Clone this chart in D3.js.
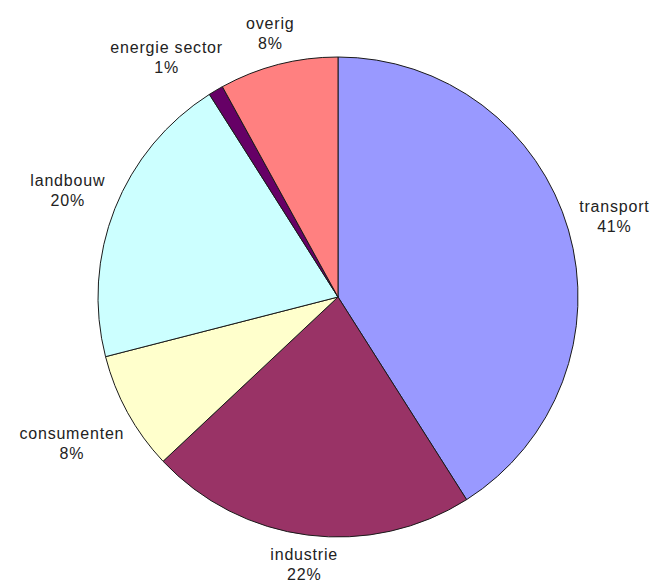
<!DOCTYPE html>
<html>
<head>
<meta charset="utf-8">
<script src="https://cdn.jsdelivr.net/npm/d3@7"></script>
<style>
  body { margin: 0; background: #fff; }
  text { font-family: "Liberation Sans", Arial, sans-serif; font-size: 16px; fill: #222; letter-spacing: 0.8px; }
</style>
</head>
<body>
<div id="chart"></div>
<script>
"use strict";

// Data
var categories = ["transport", "industrie", "consumenten", "landbouw", "energie sector", "overig"];
var shares = [41, 22, 8, 20, 1, 8];
var palette = ["#9999ff", "#993366", "#ffffcc", "#ccffff", "#660066", "#ff8080"];

var width = 650, height = 587;
var cx = 338, cy = 297, radius = 240;
var labelGap = 9;
var lineHeight = 20;
var labelPad = 22;

var svg = d3.select("#chart").append("svg")
    .attr("width", width)
    .attr("height", height);

var g = svg.append("g")
    .attr("transform", "translate(" + cx + "," + cy + ")");

var pie = d3.pie().sort(null).value(function (d) { return d; });
var arc = d3.arc().innerRadius(0).outerRadius(radius);

var slices = pie(shares);

g.selectAll("path.slice")
    .data(slices)
    .enter().append("path")
    .attr("class", "slice")
    .attr("d", arc)
    .attr("fill", function (d, i) { return palette[i]; })
    .attr("stroke", "#1a1a1a")
    .attr("stroke-width", 1);

// distance from centre to nearest point of a box
function nearestDist(bx, by, w, h) {
    var nx = Math.max(bx - w / 2, Math.min(0, bx + w / 2));
    var ny = Math.max(by - h / 2, Math.min(0, by + h / 2));
    return Math.sqrt(nx * nx + ny * ny);
}

// box centre for a label of size w,h pushed out along angle a
function placeAt(a, w, h) {
    var dx = Math.sin(a), dy = -Math.cos(a);
    var lo = 0, hi = 500;
    for (var k = 0; k < 40; k++) {
        var mid = (lo + hi) / 2;
        if (nearestDist(mid * dx, mid * dy, w, h) < radius + labelGap) lo = mid; else hi = mid;
    }
    return [hi * dx, hi * dy];
}

function overlaps(p, q) {
    return Math.abs(p.x - q.x) < (p.w + q.w) / 2 + labelPad &&
           Math.abs(p.y - q.y) < (p.h + q.h) / 2;
}

// Labels: build and measure
var labels = slices.map(function (d, i) {
    var label = g.append("text").attr("text-anchor", "middle");
    label.append("tspan").attr("x", 0).attr("y", 0).text(categories[i]);
    label.append("tspan").attr("x", 0).attr("y", lineHeight).text(shares[i] + "%");
    var bb = label.node().getBBox();
    return { node: label, bb: bb, w: bb.width, h: bb.height, a: (d.startAngle + d.endAngle) / 2, share: shares[i] };
});

// place biggest first, nudge smaller labels round the pie if they collide
var order = d3.range(labels.length).sort(function (i, j) { return shares[j] - shares[i]; });
var placed = [];
order.forEach(function (i) {
    var L = labels[i];
    var a = L.a;
    for (var step = 0; step < 120; step++) {
        var c = placeAt(a, L.w, L.h);
        L.x = c[0]; L.y = c[1];
        var hit = placed.filter(function (p) { return overlaps(L, p); })[0];
        if (!hit) break;
        a += (L.a < hit.a ? -1 : 1) * Math.PI / 360;
    }
    placed.push(L);
});

labels.forEach(function (L) {
    var ox = L.x - (L.bb.x + L.bb.width / 2);
    var oy = L.y - (L.bb.y + L.bb.height / 2);
    L.node.attr("transform", "translate(" + ox + "," + oy + ")");
});
</script>
</body>
</html>
